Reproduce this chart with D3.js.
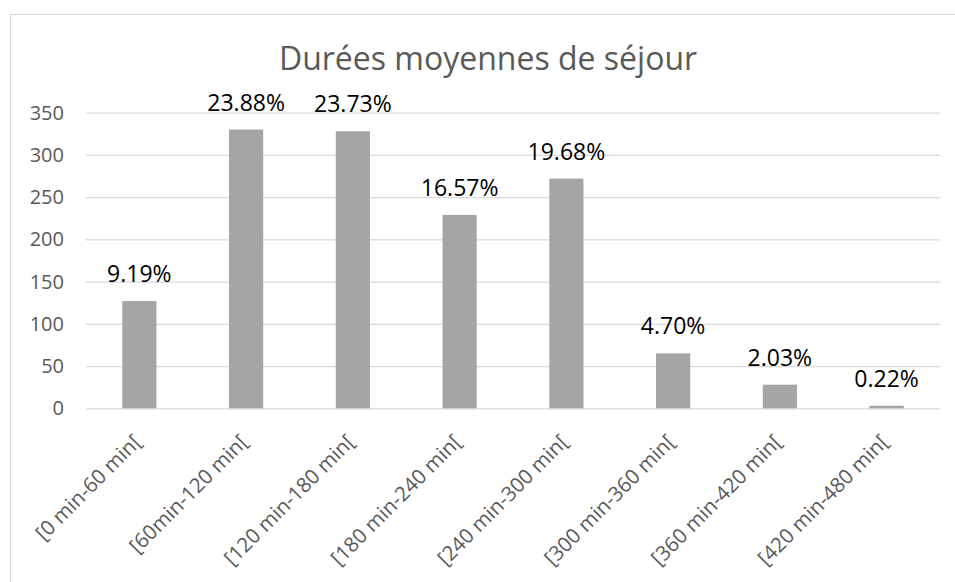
<!DOCTYPE html>
<html><head><meta charset="utf-8">
<script src="https://cdn.jsdelivr.net/npm/d3@7"></script>
<style>body{margin:0;background:#fff}svg{display:block}</style>
</head><body>
<svg id="c" width="955" height="582"></svg>
<script>
const title = "Durées moyennes de séjour";
const categories = ["[0 min-60 min[","[60min-120 min[","[120 min-180 min[","[180 min-240 min[","[240 min-300 min[","[300 min-360 min[","[360 min-420 min[","[420 min-480 min["];
const values = [127, 330, 328, 229, 272, 65, 28, 3];
const percentLabels = ["9.19%","23.88%","23.73%","16.57%","19.68%","4.70%","2.03%","0.22%"];
const yTicks = [0,50,100,150,200,250,300,350];

const svg = d3.select("#c");
const font = "'Open Sans', sans-serif";
const m = {left:86, right:940, top:112.7, bottom:408.3};

// chart border
svg.append("path").attr("d","M10.5,582 V14.5 H955").attr("fill","none").attr("stroke","#d9d9d9").attr("stroke-width",1.2);

const x = d3.scaleBand().domain(categories).range([m.left,m.right]).paddingInner(0.68).paddingOuter(0.34);
const y = d3.scaleLinear().domain([0,350]).range([m.bottom,m.top]);

// gridlines
const yAxis = d3.axisLeft(y).tickValues(yTicks).tickSize(-(m.right-m.left)).tickPadding(22).tickFormat(d3.format("d"));
const gy = svg.append("g").attr("transform",`translate(${m.left},0)`).call(yAxis);
gy.select(".domain").remove();
gy.selectAll("line").attr("stroke","#d9d9d9").attr("stroke-width",1.2);
gy.selectAll("text").attr("fill","#595959").style("font-family",font).style("font-size","20px");

// x axis labels
const xAxis = d3.axisBottom(x).tickSize(0).tickPadding(0);
const gx = svg.append("g").attr("transform",`translate(0,${m.bottom})`).call(xAxis);
gx.select(".domain").remove();
gx.selectAll("text")
  .attr("fill","#595959").style("font-family",font).style("font-size","20.5px")
  .attr("text-anchor","end").attr("dy",null).attr("y",0)
  .attr("transform","translate(3,35) rotate(-45)");

// bars
svg.append("g").selectAll("rect").data(values).join("rect")
  .attr("x",(d,i)=>x(categories[i])).attr("width",x.bandwidth())
  .attr("y",d=>y(d)).attr("height",d=>y(0)-y(d)).attr("fill","#a5a5a5");

// data labels
svg.append("g").selectAll("text").data(values).join("text")
  .attr("x",(d,i)=>x(categories[i])+x.bandwidth()/2).attr("y",d=>y(d)-19)
  .attr("text-anchor","middle").attr("fill","#000")
  .style("font-family",font).style("font-size","23px")
  .text((d,i)=>percentLabels[i]);

// title
svg.append("text").attr("x",488).attr("y",70).attr("text-anchor","middle")
  .attr("fill","#595959").style("font-family",font).style("font-size","32px").text(title);
</script>
</body></html>
